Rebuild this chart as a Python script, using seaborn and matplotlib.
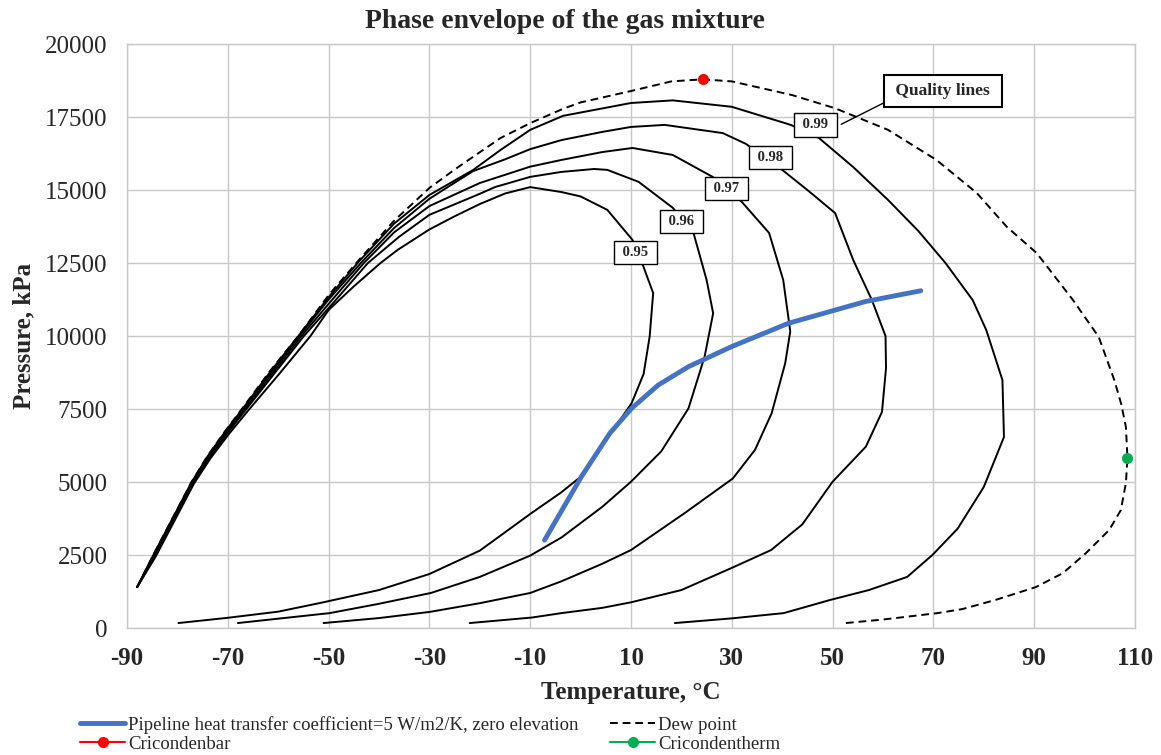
import pandas as pd
import matplotlib.pyplot as plt
import seaborn as sns

# phase envelope data (Temperature in C, Pressure in kPa)
dew_T = [-88, -84.8, -81, -77.2, -74, -70.5, -67, -61.5, -56, -50, -44, -37, -30, -25, -21.3, -15.9, -10,
         -3.5, 0, 10, 18, 24.2, 30, 42, 50.5, 61, 70.6, 78.6, 84.5, 90.5, 97.7, 102.8, 105.9, 107.3, 108.2,
         108.5, 108.2, 107.2, 104.9, 100.3, 95.7, 90.3, 82.3, 75.8, 70.8, 60, 52.6]
dew_P = [1400, 2500, 3750, 5000, 5900, 6750, 7550, 8830, 10000, 11400, 12600, 13950, 15070, 15700, 16140,
         16780, 17290, 17780, 18000, 18390, 18720, 18790, 18720, 18250, 17800, 17060, 16030, 14900, 13750,
         12840, 11230, 9970, 8490, 7650, 6880, 5820, 4970, 4040, 3360, 2570, 1880, 1400, 960, 650, 510,
         290, 170]

q99_T = [18.7, 30, 40.3, 49.5, 57.2, 64.8, 69.8, 74.8, 80, 84, 83.7, 80.5, 77.8, 72.4, 67, 61, 54, 47.3,
         41.7, 30, 18.3, 10, -3.5, -10, -15.9, -21.3, -30, -37, -44, -50, -56, -61.5, -67, -70.5, -74,
         -77.2, -81, -84.8, -88]
q99_P = [170, 330, 510, 960, 1300, 1750, 2500, 3400, 4830, 6540, 8490, 10200, 11230, 12500, 13600, 14660,
         15800, 16780, 17230, 17850, 18070, 17980, 17540, 17060, 16370, 15690, 14830, 13850, 12550, 11330,
         10000, 8790, 7520, 6730, 5880, 4990, 3740, 2490, 1400]

q98_T = [-22, -9.6, -3.8, 4.3, 10, 20, 30.4, 37.8, 44, 50, 56.6, 59.8, 60.6, 60.5, 57.8, 54.1, 50.5, 45,
         40, 32.8, 28.2, 16.7, 10, 4.3, -3.8, -10, -15, -21.3, -25, -30, -37, -43.6, -50, -55.8, -61.3,
         -66.9, -70.4, -73.9, -77.1, -80.9, -84.7, -88]
q98_P = [170, 360, 510, 690, 880, 1300, 2090, 2670, 3550, 5010, 6210, 7400, 8900, 10000, 11230, 12600,
         14210, 15000, 15690, 16580, 16950, 17230, 17160, 16990, 16710, 16400, 16050, 15650, 15250, 14700,
         13700, 12500, 11250, 10000, 8770, 7500, 6710, 5870, 4980, 3730, 2480, 1400]

q97_T = [-51, -40, -30, -20, -10, -3.8, 4.3, 10, 20.6, 30.2, 34.6, 37.9, 40.6, 41.6, 40.2, 37.4, 32, 26.2,
         18.3, 10.3, 4.3, -3.8, -10, -20, -30, -37, -43, -49.5, -55.4, -61, -66.7, -70.3, -73.8, -77,
         -80.8, -84.6, -88]
q97_P = [170, 340, 550, 850, 1200, 1600, 2200, 2670, 3930, 5120, 6100, 7350, 9070, 10160, 11920, 13530,
         14590, 15450, 16200, 16440, 16300, 16030, 15800, 15240, 14450, 13550, 12500, 11200, 10000, 8750,
         7480, 6690, 5860, 4970, 3720, 2470, 1400]

q96_T = [-68, -60, -49.8, -40, -29.7, -20, -10, -3.8, 4.3, 10, 16, 21.4, 24.6, 26.3, 25, 22.4, 18.3, 11.5,
         5.3, 2.7, -3.8, -10, -17, -20, -30, -36, -42.2, -49, -54.9, -60.7, -66.5, -70.1, -73.6, -76.9,
         -80.7, -84.5, -88]
q96_P = [170, 320, 510, 830, 1200, 1750, 2480, 3100, 4150, 5010, 6050, 7520, 9290, 10780, 11920, 13530,
         14390, 15280, 15690, 15720, 15620, 15450, 15100, 14870, 14150, 13400, 12500, 11150, 10000, 8730,
         7460, 6670, 5840, 4960, 3710, 2460, 1400]

q95_T = [-79.8, -70, -60, -51.6, -40, -30, -20, -9.8, -3.8, -0.2, 5.5, 10.1, 12.5, 13.7, 14.4, 12.5, 10.3,
         5.3, 0, -3.8, -10, -15, -20, -25, -30, -36.3, -39.7, -45, -50, -53.6, -60, -66, -69.8, -73.4,
         -76.7, -80.5, -84.3, -88]
q95_P = [170, 350, 560, 860, 1300, 1850, 2650, 3930, 4650, 5150, 6550, 7690, 8700, 9980, 11470, 12360,
         13290, 14320, 14780, 14930, 15100, 14880, 14520, 14100, 13650, 12950, 12500, 11700, 10890, 10000,
         8660, 7440, 6640, 5820, 4950, 3700, 2450, 1400]

pipe_T = [-7.15, 0.15, 5.8, 10.1, 15.4, 21.4, 30, 41.3, 56.5, 67.5]
pipe_P = [3010, 5180, 6670, 7520, 8320, 8950, 9640, 10440, 11180, 11550]

cricondenbar = (24.2, 18790)
cricondentherm = (108.5, 5820)

quality_names = ['0.95', '0.96', '0.97', '0.98', '0.99']
label_T = [10.9, 19.95, 28.95, 37.6, 46.6]
label_P = [12850, 13920, 15040, 16120, 17230]

sns.set_style("whitegrid")
plt.rcParams['font.family'] = ['Liberation Serif', 'DejaVu Serif']
plt.rcParams['axes.unicode_minus'] = False

fig = plt.figure(figsize=(11.61, 7.55), dpi=100)
ax = fig.add_axes([0.1094, 0.1682, 0.8682, 0.7735])

curves = [(q95_T, q95_P), (q96_T, q96_P), (q97_T, q97_P), (q98_T, q98_P), (q99_T, q99_P)]
for t, p in curves:
    df = pd.DataFrame({'T': t, 'P': p})
    sns.lineplot(data=df, x='T', y='P', sort=False, estimator=None, color='black', lw=1.4, ax=ax)

pipe = pd.DataFrame({'T': pipe_T, 'P': pipe_P})
sns.lineplot(data=pipe, x='T', y='P', sort=False, estimator=None, color='#4472C4', lw=3.5,
             solid_capstyle='round', label='Pipeline heat transfer coefficient=5 W/m2/K, zero elevation', ax=ax)

dew = pd.DataFrame({'T': dew_T, 'P': dew_P})
sns.lineplot(data=dew, x='T', y='P', sort=False, estimator=None, color='black', lw=1.4,
             linestyle=(0, (4, 2.5)), label='Dew point', ax=ax)

sns.lineplot(x=[cricondenbar[0]], y=[cricondenbar[1]], color='red', marker='o', markersize=8,
             markeredgewidth=0, lw=1.5, label='Cricondenbar', ax=ax)
sns.lineplot(x=[cricondentherm[0]], y=[cricondentherm[1]], color='#00B050', marker='o', markersize=8,
             markeredgewidth=0, lw=1.5, label='Cricondentherm', ax=ax)

# quality labels
for name, t, p in zip(quality_names, label_T, label_P):
    ax.text(t, p, ' ' + name + ' ', ha='center', va='center', fontsize=10.5, fontweight='bold', zorder=5,
            bbox=dict(boxstyle='square,pad=0.35', fc='white', ec='black', lw=1))
ax.annotate(' Quality lines ', xy=(51.7, 17250), xytext=(71.9, 18390), ha='center', va='center',
            fontsize=12.5, fontweight='bold', zorder=5,
            bbox=dict(boxstyle='square,pad=0.45', fc='white', ec='black', lw=1.5),
            arrowprops=dict(arrowstyle='-', color='black', lw=1, relpos=(0, 0), shrinkA=0, shrinkB=0))

ax.set_xlim(-90, 110)
ax.set_ylim(0, 20000)
ax.set_xticks(range(-90, 111, 20))
ax.set_yticks(range(0, 20001, 2500))
ax.grid(True, color='#C8C8C8', lw=1)
for s in ax.spines.values():
    s.set_color('#C8C8C8')
    s.set_linewidth(1)
ax.tick_params(axis='both', direction='out', length=5, width=1, color='#C8C8C8', labelsize=18, pad=9)
plt.setp(ax.get_xticklabels(), fontweight='bold')

ax.set_xlabel('Temperature, °C', fontsize=18, fontweight='bold')
ax.set_ylabel('Pressure, kPa', fontsize=18, fontweight='bold')
ax.xaxis.set_label_coords(0.5, -0.111)
ax.xaxis.label.set_va('center')
ax.yaxis.set_label_coords(-0.102, 0.5)
ax.yaxis.label.set_va('center')

fig.text(565 / 1161, 1 - 21 / 755, 'Phase envelope of the gas mixture', ha='center', va='center',
         fontsize=20, fontweight='bold')

handles, labels = ax.get_legend_handles_labels()
if ax.get_legend() is not None:
    ax.get_legend().remove()
order = [0, 2, 1, 3]
fig.legend([handles[i] for i in order], [labels[i] for i in order], loc='upper left',
           bbox_to_anchor=(0.069, 0.052), ncol=2, frameon=False, fontsize=13.5, handlelength=2.4,
           handletextpad=0.15, columnspacing=1.7, labelspacing=0.1, borderpad=0, borderaxespad=0)

fig.savefig('out.png', dpi=100)
